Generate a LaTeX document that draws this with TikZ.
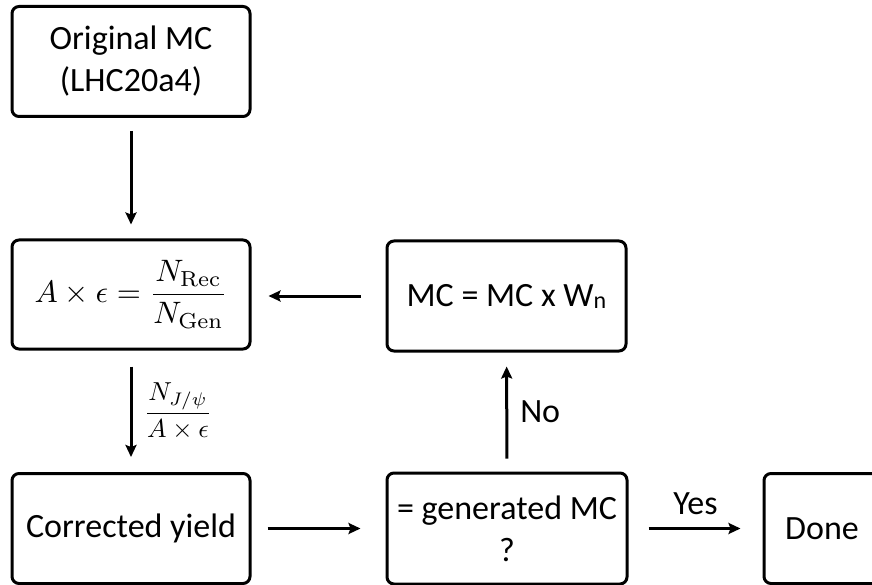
\documentclass[tikz,border=0pt]{standalone}
\usepackage[no-math]{fontspec}
\setmainfont{Carlito}
\usetikzlibrary{arrows.meta}
\tikzset{
  box/.style={draw=black, line width=3pt, rounded corners=7pt, align=center,
    inner sep=0pt, font=\fontsize{34}{42}\selectfont},
  conn/.style={line width=3pt, -{Stealth[length=12pt,width=11pt,inset=2pt]}},
  lbl/.style={inner sep=0pt, font=\fontsize{34}{42}\selectfont}
}
\begin{document}
\begin{tikzpicture}[x=1pt,y=-1pt]
\useasboundingbox (0,0) rectangle (872,585);
\node[box, minimum width=238pt, minimum height=110pt] (orig) at (131,61.5) {Original MC\\(LHC20a4)};
\node[box, minimum width=238pt, minimum height=109pt] (acc) at (131,294.5) {};
\node[inner sep=0pt, scale=3.1] (accf) at (acc.center)
  {$\displaystyle A\times\epsilon=\frac{N_{\mathrm{Rec}}}{N_{\mathrm{Gen}}}$};
\node[box, minimum width=239pt, minimum height=110pt] (mc) at (506.5,296)
  {MC = MC x W\raisebox{-2pt}{\fontsize{24}{24}\selectfont n}};
\node[box, minimum width=238pt, minimum height=110pt] (corr) at (131,528.5) {Corrected yield};
\node[box, minimum width=240pt, minimum height=111pt] (gen) at (507,528.5) {= generated MC\\?};
\node[box, minimum width=116pt, minimum height=110pt] (done) at (822,528.5) {Done};

\draw[conn, shorten <=13pt, shorten >=14pt] (orig) -- (acc);
\draw[conn, shorten <=16pt, shorten >=15pt] (acc) -- (corr)
  node[midway, right=9pt, inner sep=0pt, scale=2.6]
  (fr) {$\displaystyle\frac{N_{J/\psi}}{A\times\epsilon}$};
\draw[conn, shorten <=25pt, shorten >=17pt] (mc.west) -- (mc.west -| acc.east);
\draw[conn, shorten <=16pt, shorten >=25pt] (corr.east |- gen.west) -- (gen.west);
\draw[conn, shorten <=13pt, shorten >=14pt] (gen) -- (mc)
  node[midway, right=12pt, lbl] (no) {No};
\draw[conn, shorten <=20pt, shorten >=22pt] (gen.east) -- (done.west)
  node[midway, above=12pt, lbl] (yes) {Yes};
\end{tikzpicture}
\end{document}
